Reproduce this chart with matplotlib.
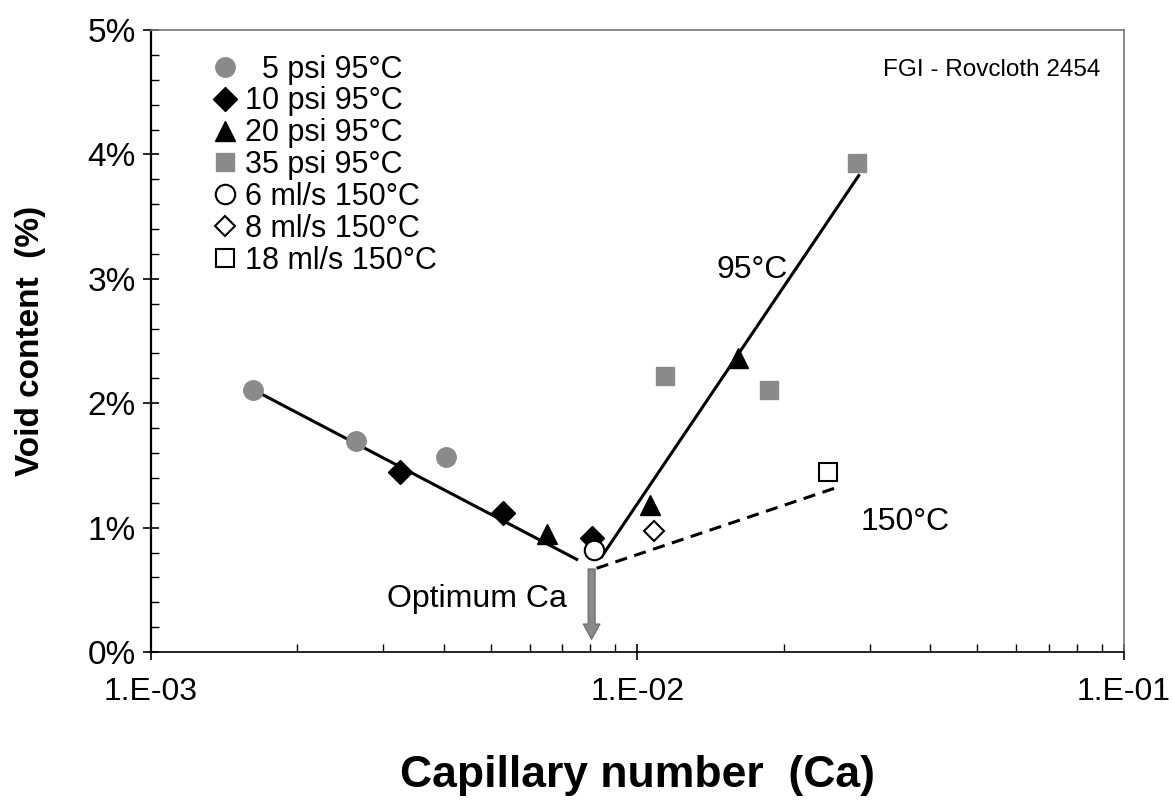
import numpy as np
import matplotlib
matplotlib.use('Agg')
import matplotlib.pyplot as plt
from matplotlib.ticker import FixedLocator, FuncFormatter, MultipleLocator

plt.rcParams['font.family'] = ['Liberation Sans', 'DejaVu Sans']

# data (x = capillary number, y = void content in %)
psi5_x = [1.62e-3, 2.64e-3, 4.04e-3]
psi5_y = [2.11, 1.70, 1.57]
psi10_x = [3.25e-3, 5.29e-3, 8.06e-3]
psi10_y = [1.45, 1.12, 0.92]
psi20_x = [6.51e-3, 1.06e-2, 1.61e-2]
psi20_y = [0.95, 1.18, 2.36]
psi35_x = [1.14e-2, 1.86e-2, 2.83e-2]
psi35_y = [2.22, 2.11, 3.93]
ml6_x = [8.15e-3]
ml6_y = [0.82]
ml8_x = [1.08e-2]
ml8_y = [0.97]
ml18_x = [2.46e-2]
ml18_y = [1.45]

# trend lines
fit_low_x = [1.62e-3, 7.5e-3]
fit_low_y = [2.11, 0.745]
fit_95_x = [8.44e-3, 2.85e-2]
fit_95_y = [0.766, 3.83]
fit_150_x = [8.24e-3, 2.54e-2]
fit_150_y = [0.673, 1.316]

opt_ca = 8.05e-3

fig = plt.figure(figsize=(11.72, 8.02), dpi=100)
ax = fig.add_axes([0.1288, 0.187, 0.8302, 0.7756])

gray = '#8a8a8a'
h1, = ax.plot(psi5_x, psi5_y, 'o', ms=14, color=gray, mec=gray, label='  5 psi 95°C')
h2, = ax.plot(psi10_x, psi10_y, 'D', ms=12, color='black', label='10 psi 95°C')
h3, = ax.plot(psi20_x, psi20_y, '^', ms=15, color='black', label='20 psi 95°C')
h4, = ax.plot(psi35_x, psi35_y, 's', ms=13, color=gray, mec=gray, label='35 psi 95°C')
h5, = ax.plot(ml6_x, ml6_y, 'o', ms=14, mfc='white', mec='black', mew=1.5, label='6 ml/s 150°C')
h6, = ax.plot(ml8_x, ml8_y, 'D', ms=10.5, mfc='white', mec='black', mew=1.5, label='8 ml/s 150°C')
h7, = ax.plot(ml18_x, ml18_y, 's', ms=13, mfc='white', mec='black', mew=1.5, label='18 ml/s 150°C')

ax.plot(fit_low_x, fit_low_y, '-', color='black', lw=2.2, zorder=1)
ax.plot(fit_95_x, fit_95_y, '-', color='black', lw=2.2, zorder=1)
ax.plot(fit_150_x, fit_150_y, '--', color='black', lw=2.2, dashes=(4, 2.5), zorder=1)

ax.annotate('', xy=(opt_ca, 0.08), xytext=(opt_ca, 0.69),
            arrowprops=dict(arrowstyle='simple,head_width=1.2,head_length=1.1,tail_width=0.5',
                            fc=gray, ec='#666666', lw=0.8))

ax.text(7.16e-3, 0.426, 'Optimum Ca', ha='right', va='center', fontsize=23)
ax.text(1.72e-2, 3.07, '95°C', ha='center', va='center', fontsize=23)
ax.text(3.55e-2, 1.045, '150°C', ha='center', va='center', fontsize=23)
ax.text(0.976, 0.936, 'FGI - Rovcloth 2454', transform=ax.transAxes,
        ha='right', va='center', fontsize=17.5)

ax.set_xscale('log')
ax.set_xlim(1e-3, 1e-1)
ax.set_ylim(0, 5)

ax.xaxis.set_major_locator(FixedLocator([1e-3, 1e-2, 1e-1]))
ax.xaxis.set_major_formatter(FuncFormatter(lambda v, p: '1.E-%02d' % round(-np.log10(v))))
ax.xaxis.set_minor_locator(FixedLocator([k * 10.0**e for e in (-3, -2) for k in range(2, 10)]))
ax.xaxis.set_minor_formatter(FuncFormatter(lambda v, p: ''))
ax.yaxis.set_major_locator(MultipleLocator(1))
ax.yaxis.set_minor_locator(MultipleLocator(0.2))
ax.yaxis.set_major_formatter(FuncFormatter(lambda v, p: '%d%%' % round(v)))

ax.tick_params(which='major', direction='inout', length=12, width=1.2, pad=5)
ax.tick_params(axis='y', which='major', labelsize=24)
ax.tick_params(axis='x', which='major', labelsize=23, pad=12)
ax.tick_params(which='minor', direction='in', length=6, width=1)

for s in ['top', 'right']:
    ax.spines[s].set_color('#777777')
    ax.spines[s].set_linewidth(1.2)
ax.spines['left'].set_linewidth(1.6)
ax.spines['bottom'].set_linewidth(1.2)

ax.set_xlabel('Capillary number  (Ca)', fontsize=32, fontweight='bold', va='center')
ax.xaxis.set_label_coords(0.5, -0.198)
ax.set_ylabel('Void content  (%)', fontsize=24, fontweight='bold', va='center')
ax.yaxis.set_label_coords(-0.124, 0.5)

ax.legend(handles=[h1, h2, h3, h4, h5, h6, h7], loc='upper left',
          bbox_to_anchor=(0.045, 0.99), frameon=False, fontsize=22,
          handlelength=0.8, handletextpad=0.25, labelspacing=0.06, borderpad=0.1)

fig.savefig('out.png', dpi=100)
